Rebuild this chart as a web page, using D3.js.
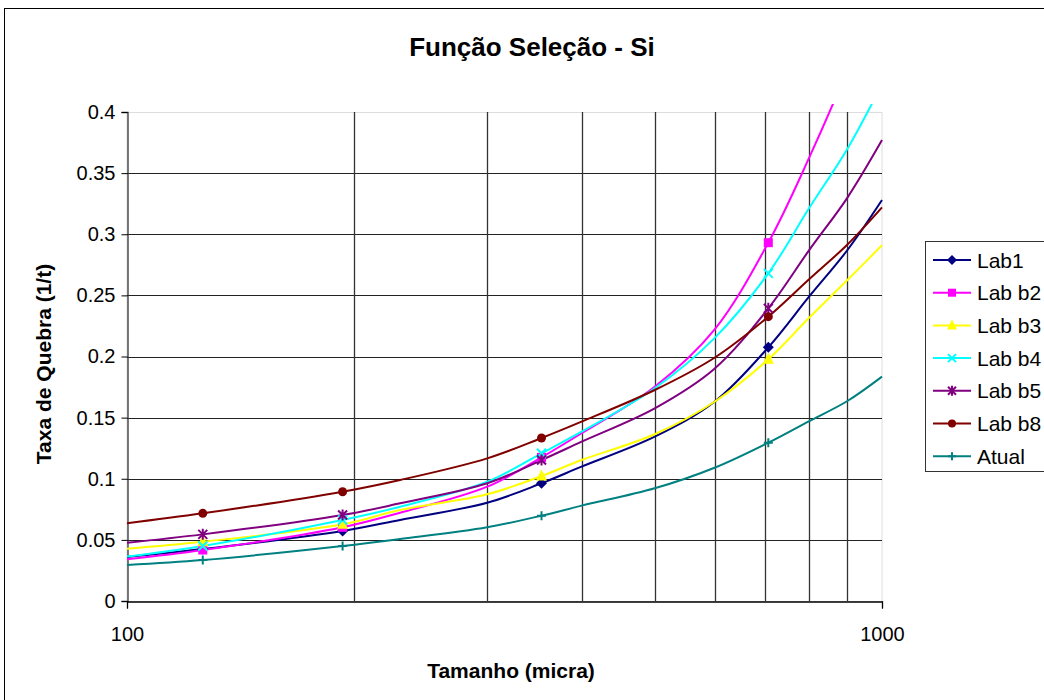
<!DOCTYPE html>
<html><head><meta charset="utf-8">
<script src="https://cdn.jsdelivr.net/npm/d3@7"></script>
<style>
html,body{margin:0;padding:0;background:#fff;}
svg{display:block;font-family:"Liberation Sans",Arial,sans-serif;}
</style></head>
<body><svg id="chart" width="1044" height="700"></svg>
<script>
// ---- data ----
const sizes = [100, 126, 193, 230, 300, 354, 400, 500, 600, 707, 800, 900, 1000];
const markerSizes = [126, 193, 354, 707];
const seriesNames = ["Lab1", "Lab b2", "Lab b3", "Lab b4", "Lab b5", "Lab b8", "Atual"];
const lab1  = [0.036, 0.0425, 0.0573, 0.0663, 0.0804, 0.0963, 0.1099, 0.1344, 0.163, 0.2075, 0.2487, 0.2871, 0.328];
const labB2 = [0.0341, 0.0417, 0.0603, 0.0722, 0.0935, 0.1175, 0.1372, 0.1753, 0.222, 0.2931, 0.362, 0.435, 0.51];
const labB3 = [0.0428, 0.0485, 0.0627, 0.0744, 0.0873, 0.1022, 0.1153, 0.1364, 0.163, 0.1977, 0.2315, 0.2626, 0.291];
const labB4 = [0.0363, 0.045, 0.0663, 0.0771, 0.0976, 0.1208, 0.1385, 0.174, 0.215, 0.268, 0.321, 0.370, 0.4227];
const labB5 = [0.0477, 0.0545, 0.0703, 0.0799, 0.0963, 0.1153, 0.1303, 0.1576, 0.19, 0.2394, 0.2866, 0.33, 0.377];
const labB8 = [0.0636, 0.0717, 0.0894, 0.099, 0.1167, 0.1333, 0.1467, 0.1726, 0.199, 0.2326, 0.263, 0.2916, 0.322];
const atual = [0.0294, 0.0335, 0.045, 0.0507, 0.0603, 0.0698, 0.078, 0.0922, 0.109, 0.1295, 0.147, 0.1636, 0.1835];
const yTicks = [0, 0.05, 0.1, 0.15, 0.2, 0.25, 0.3, 0.35, 0.4];
const yTickLabels = ["0", "0.05", "0.1", "0.15", "0.2", "0.25", "0.3", "0.35", "0.4"];
const xGrid = [200, 300, 400, 500, 600, 700, 800, 900];
const xTickLabels = ["100", "1000"];

const colors = ["#000080", "#FF00FF", "#FFFF00", "#00FFFF", "#800080", "#800000", "#008080"];
const shapes = ["diamond", "square", "triangle", "x", "star", "circle", "plus"];
const allValues = [lab1, labB2, labB3, labB4, labB5, labB8, atual];

const svg = d3.select("#chart");
const L = 127, R = 882, T = 112, B = 601;
const x = d3.scaleLog().domain([100, 1000]).range([L, R]);
const y = d3.scaleLinear().domain([0, 0.4]).range([B, T]);

// outer chart border
svg.append("rect").attr("x", 4.5).attr("y", 8.5).attr("width", 1200).attr("height", 900)
  .attr("fill", "#fff").attr("stroke", "#000").attr("stroke-width", 1);

// title
svg.append("text").attr("x", 532).attr("y", 56).attr("text-anchor", "middle")
  .attr("font-size", 26).attr("font-weight", "bold").text("Função Seleção - Si");

// plot border (light)
svg.append("rect").attr("x", L).attr("y", T + 0.5).attr("width", R - L).attr("height", B - T)
  .attr("fill", "none").attr("stroke", "#ddd");

// horizontal gridlines
svg.append("g").selectAll("line").data(yTicks.slice(1)).join("line")
  .attr("x1", L).attr("x2", R).attr("y1", d => Math.round(y(d)) + 0.5).attr("y2", d => Math.round(y(d)) + 0.5)
  .attr("stroke", d => d === 0.4 ? "#ddd" : "#222").attr("stroke-width", 1);
// vertical gridlines
svg.append("g").selectAll("line").data(xGrid).join("line")
  .attr("y1", T).attr("y2", B).attr("x1", d => Math.round(x(d)) + 0.5).attr("x2", d => Math.round(x(d)) + 0.5)
  .attr("stroke", "#333").attr("stroke-width", 1.3);

// axes
const yAxis = d3.axisLeft(y).tickValues(yTicks).tickFormat((d, i) => yTickLabels[i]).tickSize(6).tickPadding(6);
const gy = svg.append("g").attr("transform", `translate(${L + 0.5},0)`).call(yAxis);
gy.select(".domain").attr("stroke", "#333").attr("stroke-width", 1.3);
gy.selectAll(".tick line").attr("stroke", "#000");
gy.selectAll(".tick text").attr("font-size", 20).attr("font-family", "Liberation Sans, Arial, sans-serif").attr("fill", "#000");

const xAxis = d3.axisBottom(x).tickValues([100, 1000]).tickFormat((d, i) => xTickLabels[i]).tickSize(7).tickPadding(18);
const gx = svg.append("g").attr("transform", `translate(0,${B + 0.5})`).call(xAxis);
gx.select(".domain").attr("stroke", "#000").attr("stroke-width", 1.3);
gx.selectAll(".tick line").attr("stroke", "#000");
gx.selectAll(".tick text").attr("font-size", 20).attr("font-family", "Liberation Sans, Arial, sans-serif").attr("fill", "#000");

// axis titles
svg.append("text").attr("x", 511).attr("y", 678).attr("text-anchor", "middle")
  .attr("font-size", 21).attr("font-weight", "bold").text("Tamanho (micra)");
svg.append("text").attr("transform", "translate(51,364) rotate(-90)").attr("text-anchor", "middle")
  .attr("font-size", 21).attr("font-weight", "bold").text("Taxa de Quebra (1/t)");

// clip
svg.append("defs").append("clipPath").attr("id", "clip")
  .append("rect").attr("x", L).attr("y", 104).attr("width", R - L + 1).attr("height", B - 104);

const line = d3.line().x(d => x(d[0])).y(d => y(d[1])).curve(d3.curveCatmullRom.alpha(0.5));

function marker(g, shape, color, cx, cy, s) {
  const h = s / 2;
  if (shape === "diamond") g.append("path").attr("d", `M${cx},${cy - h - 1}L${cx + h + 1},${cy}L${cx},${cy + h + 1}L${cx - h - 1},${cy}Z`).attr("fill", color);
  else if (shape === "square") g.append("rect").attr("x", cx - h).attr("y", cy - h).attr("width", s).attr("height", s).attr("fill", color);
  else if (shape === "triangle") g.append("path").attr("d", `M${cx},${cy - h - 2}L${cx + h + 1},${cy + h}L${cx - h - 1},${cy + h}Z`).attr("fill", color);
  else if (shape === "circle") g.append("circle").attr("cx", cx).attr("cy", cy).attr("r", h).attr("fill", color);
  else if (shape === "x") g.append("path").attr("d", `M${cx - h},${cy - h}L${cx + h},${cy + h}M${cx - h},${cy + h}L${cx + h},${cy - h}`).attr("stroke", color).attr("stroke-width", 2).attr("fill", "none");
  else if (shape === "star") g.append("path").attr("d", `M${cx - h},${cy - h}L${cx + h},${cy + h}M${cx - h},${cy + h}L${cx + h},${cy - h}M${cx},${cy - h - 1}L${cx},${cy + h + 1}`).attr("stroke", color).attr("stroke-width", 2).attr("fill", "none");
  else if (shape === "plus") g.append("path").attr("d", `M${cx - h},${cy}L${cx + h},${cy}M${cx},${cy - h}L${cx},${cy + h}`).attr("stroke", color).attr("stroke-width", 2).attr("fill", "none");
}

const plot = svg.append("g").attr("clip-path", "url(#clip)");
allValues.forEach((vals, i) => {
  const pts = sizes.map((s, k) => [s, vals[k]]);
  plot.append("path").datum(pts).attr("d", line).attr("fill", "none")
    .attr("stroke", colors[i]).attr("stroke-width", 2);
});
const mk = svg.append("g");
allValues.forEach((vals, i) => {
  markerSizes.forEach(ms => {
    const k = sizes.indexOf(ms);
    marker(mk, shapes[i], colors[i], x(ms), y(vals[k]), 9);
  });
});

// legend
svg.append("rect").attr("x", 925.5).attr("y", 241.5).attr("width", 200).attr("height", 230)
  .attr("fill", "#fff").attr("stroke", "#333");
seriesNames.forEach((name, i) => {
  const cy = 260 + i * 32.7;
  const g = svg.append("g");
  g.append("line").attr("x1", 933).attr("x2", 971).attr("y1", cy).attr("y2", cy)
    .attr("stroke", colors[i]).attr("stroke-width", 2);
  marker(g, shapes[i], colors[i], 952, cy, 8);
  g.append("text").attr("x", 977).attr("y", cy).attr("dy", "0.36em").attr("font-size", 21).text(name);
});
</script></body></html>
